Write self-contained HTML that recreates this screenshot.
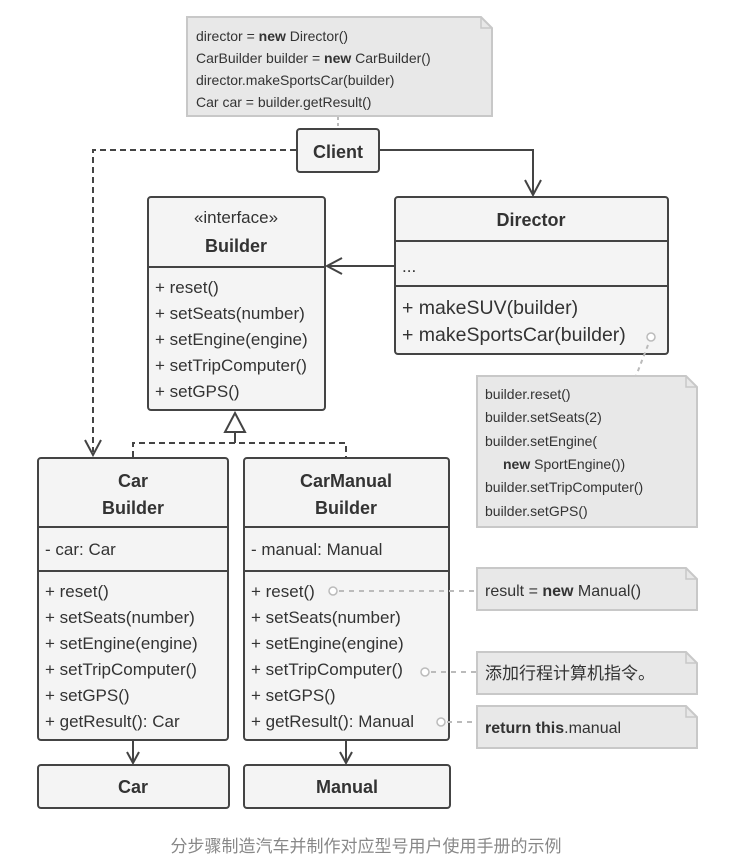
<!DOCTYPE html>
<html><head><meta charset="utf-8"><style>
html,body{margin:0;padding:0;background:#fff;}
svg{display:block;}
text{font-family:"Liberation Sans","Noto Sans CJK SC",sans-serif;fill:#333;}
.b{font-weight:bold;}
.m{font-size:17px;}
.n{font-size:14px;fill:#333;}
.box{fill:#f4f4f4;stroke:#444;stroke-width:2;}
.ln{stroke:#444;stroke-width:2;fill:none;}
.note{fill:#e8e8e8;stroke:#c8c8c8;stroke-width:2;}
.dash{stroke:#444;stroke-width:2;fill:none;stroke-dasharray:6,4;}
.ndash{stroke:#bbb;stroke-width:2;fill:none;stroke-dasharray:5,5;}
.circ{fill:#fff;stroke:#bbb;stroke-width:1.5;}
</style></head><body>
<svg width="731" height="865" viewBox="0 0 731 865" xmlns="http://www.w3.org/2000/svg">
<path class="note" d="M187 17 H481 L492 28 V116 H187 Z"/>
<path d="M481 17 V28 H492" fill="none" stroke="#c8c8c8" stroke-width="1.5"/>
<text class="n" x="196" y="41" font-size="14.5">director = <tspan class="b">new</tspan> Director()</text>
<text class="n" x="196" y="63" font-size="14.5">CarBuilder builder = <tspan class="b">new</tspan> CarBuilder()</text>
<text class="n" x="196" y="85" font-size="14.5">director.makeSportsCar(builder)</text>
<text class="n" x="196" y="107" font-size="14.5">Car car = builder.getResult()</text>
<line x1="338" y1="117" x2="338" y2="128" stroke="#bbb" stroke-width="2" stroke-dasharray="3,3"/>

<rect class="box" x="297" y="129" width="82" height="43" rx="3"/>
<text class="b" x="338" y="158" text-anchor="middle" font-size="18">Client</text>
<path class="dash" d="M296 150 H93 V452"/>
<path class="ln" d="M85 440 L93 455 L101 440"/>
<path class="ln" d="M379 150 H533 V195"/>
<path class="ln" d="M525 180 L533 195 L541 180"/>

<rect class="box" x="148" y="197" width="177" height="213" rx="3"/>
<line class="ln" x1="148" y1="267" x2="325" y2="267"/>
<text x="236" y="223" text-anchor="middle" font-size="17">«interface»</text>
<text class="b" x="236" y="252" text-anchor="middle" font-size="18">Builder</text>
<text class="m" x="155" y="293">+ reset()</text>
<text class="m" x="155" y="319">+ setSeats(number)</text>
<text class="m" x="155" y="345">+ setEngine(engine)</text>
<text class="m" x="155" y="371">+ setTripComputer()</text>
<text class="m" x="155" y="397">+ setGPS()</text>

<rect class="box" x="395" y="197" width="273" height="157" rx="3"/>
<line class="ln" x1="395" y1="241" x2="668" y2="241"/>
<line class="ln" x1="395" y1="286" x2="668" y2="286"/>
<text class="b" x="531" y="226" text-anchor="middle" font-size="18">Director</text>
<text class="m" x="402" y="272">...</text>
<text x="402" y="314" font-size="19.5">+ makeSUV(builder)</text>
<text x="402" y="341" font-size="19.5">+ makeSportsCar(builder)</text>
<circle class="circ" cx="651" cy="337" r="4"/>
<path class="ln" d="M395 266 H327"/>
<path class="ln" d="M342 258 L327 266 L342 274"/>
<line x1="648" y1="345" x2="636" y2="376" stroke="#bbb" stroke-width="2" stroke-dasharray="4,4"/>

<path class="note" d="M477 376 H686 L697 387 V527 H477 Z"/>
<path d="M686 376 V387 H697" fill="none" stroke="#c8c8c8" stroke-width="1.5"/>
<text class="n" x="485" y="399">builder.reset()</text>
<text class="n" x="485" y="422">builder.setSeats(2)</text>
<text class="n" x="485" y="446">builder.setEngine(</text>
<text class="n" x="503" y="469"><tspan class="b">new</tspan> SportEngine())</text>
<text class="n" x="485" y="492">builder.setTripComputer()</text>
<text class="n" x="485" y="516">builder.setGPS()</text>

<path d="M235 413 L245 432 L225 432 Z" fill="#fff" stroke="#444" stroke-width="2"/>
<line class="ln" x1="235" y1="432" x2="235" y2="443"/>
<path class="dash" d="M133 457 V443 H346 V457"/>

<rect class="box" x="38" y="458" width="190" height="282" rx="3"/>
<line class="ln" x1="38" y1="527" x2="228" y2="527"/>
<line class="ln" x1="38" y1="571" x2="228" y2="571"/>
<text class="b" x="133" y="487" text-anchor="middle" font-size="18">Car</text>
<text class="b" x="133" y="514" text-anchor="middle" font-size="18">Builder</text>
<text class="m" x="45" y="555">- car: Car</text>
<text class="m" x="45" y="597">+ reset()</text>
<text class="m" x="45" y="623">+ setSeats(number)</text>
<text class="m" x="45" y="649">+ setEngine(engine)</text>
<text class="m" x="45" y="675">+ setTripComputer()</text>
<text class="m" x="45" y="701">+ setGPS()</text>
<text class="m" x="45" y="727">+ getResult(): Car</text>

<rect class="box" x="244" y="458" width="205" height="282" rx="3"/>
<line class="ln" x1="244" y1="527" x2="449" y2="527"/>
<line class="ln" x1="244" y1="571" x2="449" y2="571"/>
<text class="b" x="346" y="487" text-anchor="middle" font-size="18">CarManual</text>
<text class="b" x="346" y="514" text-anchor="middle" font-size="18">Builder</text>
<text class="m" x="251" y="555">- manual: Manual</text>
<text class="m" x="251" y="597">+ reset()</text>
<text class="m" x="251" y="623">+ setSeats(number)</text>
<text class="m" x="251" y="649">+ setEngine(engine)</text>
<text class="m" x="251" y="675">+ setTripComputer()</text>
<text class="m" x="251" y="701">+ setGPS()</text>
<text class="m" x="251" y="727">+ getResult(): Manual</text>
<circle class="circ" cx="333" cy="591" r="4"/>
<circle class="circ" cx="425" cy="672" r="4"/>
<circle class="circ" cx="441" cy="722" r="4"/>
<line class="ndash" x1="339" y1="591" x2="477" y2="591"/>
<line class="ndash" x1="431" y1="672" x2="477" y2="672"/>
<line class="ndash" x1="447" y1="722" x2="477" y2="722"/>

<path class="note" d="M477 568 H686 L697 579 V610 H477 Z"/>
<path d="M686 568 V579 H697" fill="none" stroke="#c8c8c8" stroke-width="1.5"/>
<text x="485" y="596" font-size="16">result = <tspan class="b">new</tspan> Manual()</text>
<path class="note" d="M477 652 H686 L697 663 V694 H477 Z"/>
<path d="M686 652 V663 H697" fill="none" stroke="#c8c8c8" stroke-width="1.5"/>
<text x="485" y="679" font-size="17">添加行程计算机指令。</text>
<path class="note" d="M477 706 H686 L697 717 V748 H477 Z"/>
<path d="M686 706 V717 H697" fill="none" stroke="#c8c8c8" stroke-width="1.5"/>
<text x="485" y="733" font-size="16"><tspan class="b">return this</tspan>.manual</text>

<line class="ln" x1="133" y1="741" x2="133" y2="762"/>
<path class="ln" d="M127 752 L133 763 L139 752"/>
<line class="ln" x1="346" y1="741" x2="346" y2="762"/>
<path class="ln" d="M340 752 L346 763 L352 752"/>

<rect class="box" x="38" y="765" width="191" height="43" rx="3"/>
<text class="b" x="133" y="793" text-anchor="middle" font-size="18">Car</text>
<rect class="box" x="244" y="765" width="206" height="43" rx="3"/>
<text class="b" x="347" y="793" text-anchor="middle" font-size="18">Manual</text>

<text x="366" y="852" text-anchor="middle" font-size="17" style="fill:#888">分步骤制造汽车并制作对应型号用户使用手册的示例</text>
</svg>
</body></html>
